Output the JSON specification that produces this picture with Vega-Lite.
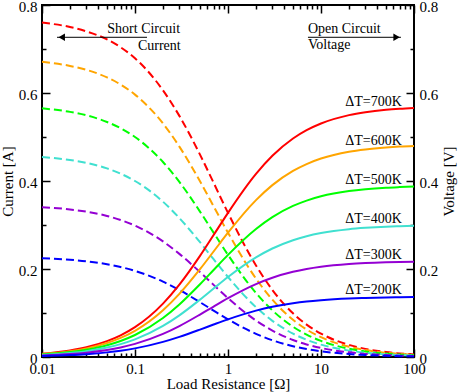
{
  "$schema": "https://vega.github.io/schema/vega-lite/v6.json",
  "autosize": "none",
  "width": 372,
  "height": 352,
  "padding": {"left": 42, "top": 5, "right": 44, "bottom": 35},
  "background": "white",
  "config": {
    "font": "Liberation Serif",
    "view": {"stroke": "black", "strokeWidth": 2},
    "axis": {
      "labelFont": "Liberation Serif", "titleFont": "Liberation Serif",
      "labelFontSize": 15, "titleFontSize": 15, "titleFontWeight": "normal",
      "labelColor": "black", "titleColor": "black", "tickColor": "black",
      "tickWidth": 1.5, "grid": false, "domain": false,
      "labelFlush": false, "labelOverlap": false
    },
    "text": {"font": "Liberation Serif", "fontSize": 14, "color": "black"}
  },
  "datasets": {
    "curves": [
      {"R":0.01,"dT":"700","I":0.760,"V":0.0076},{"R":0.02,"dT":"700","I":0.750,"V":0.0150},{"R":0.03,"dT":"700","I":0.740,"V":0.0222},{"R":0.05,"dT":"700","I":0.722,"V":0.0361},{"R":0.07,"dT":"700","I":0.704,"V":0.0493},{"R":0.1,"dT":"700","I":0.679,"V":0.0679},{"R":0.2,"dT":"700","I":0.606,"V":0.1213},{"R":0.3,"dT":"700","I":0.548,"V":0.1644},{"R":0.5,"dT":"700","I":0.460,"V":0.2298},{"R":0.7,"dT":"700","I":0.396,"V":0.2771},{"R":1,"dT":"700","I":0.3276,"V":0.3276},{"R":2,"dT":"700","I":0.208,"V":0.4161},{"R":3,"dT":"700","I":0.1524,"V":0.4572},{"R":5,"dT":"700","I":0.0993,"V":0.4965},{"R":7,"dT":"700","I":0.0736,"V":0.5155},{"R":10,"dT":"700","I":0.0531,"V":0.5307},{"R":20,"dT":"700","I":0.0275,"V":0.5497},{"R":30,"dT":"700","I":0.0185,"V":0.5563},{"R":50,"dT":"700","I":0.0112,"V":0.5617},{"R":70,"dT":"700","I":0.0081,"V":0.5640},{"R":100,"dT":"700","I":0.0057,"V":0.5658},
      {"R":0.01,"dT":"600","I":0.6708,"V":0.0067},{"R":0.02,"dT":"600","I":0.6616,"V":0.0132},{"R":0.03,"dT":"600","I":0.6527,"V":0.0196},{"R":0.05,"dT":"600","I":0.6355,"V":0.0318},{"R":0.07,"dT":"600","I":0.6192,"V":0.0434},{"R":0.1,"dT":"600","I":0.5963,"V":0.0596},{"R":0.2,"dT":"600","I":0.5308,"V":0.1062},{"R":0.3,"dT":"600","I":0.4782,"V":0.1435},{"R":0.5,"dT":"600","I":0.3992,"V":0.1996},{"R":0.7,"dT":"600","I":0.3426,"V":0.2398},{"R":1,"dT":"600","I":0.2825,"V":0.2825},{"R":2,"dT":"600","I":0.1782,"V":0.3565},{"R":3,"dT":"600","I":0.1302,"V":0.3906},{"R":5,"dT":"600","I":0.0846,"V":0.4229},{"R":7,"dT":"600","I":0.0626,"V":0.4385},{"R":10,"dT":"600","I":0.0451,"V":0.4510},{"R":20,"dT":"600","I":0.0233,"V":0.4665},{"R":30,"dT":"600","I":0.0157,"V":0.4718},{"R":50,"dT":"600","I":0.0095,"V":0.4762},{"R":70,"dT":"600","I":0.0068,"V":0.4782},{"R":100,"dT":"600","I":0.0048,"V":0.4796},
      {"R":0.01,"dT":"500","I":0.5652,"V":0.0057},{"R":0.02,"dT":"500","I":0.5571,"V":0.0111},{"R":0.03,"dT":"500","I":0.5493,"V":0.0165},{"R":0.05,"dT":"500","I":0.5342,"V":0.0267},{"R":0.07,"dT":"500","I":0.5200,"V":0.0364},{"R":0.1,"dT":"500","I":0.5000,"V":0.0500},{"R":0.2,"dT":"500","I":0.4432,"V":0.0886},{"R":0.3,"dT":"500","I":0.3980,"V":0.1194},{"R":0.5,"dT":"500","I":0.3305,"V":0.1653},{"R":0.7,"dT":"500","I":0.2826,"V":0.1978},{"R":1,"dT":"500","I":0.2321,"V":0.2321},{"R":2,"dT":"500","I":0.1455,"V":0.2910},{"R":3,"dT":"500","I":0.1060,"V":0.3179},{"R":5,"dT":"500","I":0.0687,"V":0.3433},{"R":7,"dT":"500","I":0.0508,"V":0.3555},{"R":10,"dT":"500","I":0.0365,"V":0.3652},{"R":20,"dT":"500","I":0.0189,"V":0.3772},{"R":30,"dT":"500","I":0.0127,"V":0.3814},{"R":50,"dT":"500","I":0.0077,"V":0.3848},{"R":70,"dT":"500","I":0.0055,"V":0.3862},{"R":100,"dT":"500","I":0.0039,"V":0.3874},
      {"R":0.01,"dT":"400","I":0.4545,"V":0.0045},{"R":0.02,"dT":"400","I":0.4478,"V":0.0090},{"R":0.03,"dT":"400","I":0.4412,"V":0.0132},{"R":0.05,"dT":"400","I":0.4286,"V":0.0214},{"R":0.07,"dT":"400","I":0.4167,"V":0.0292},{"R":0.1,"dT":"400","I":0.4000,"V":0.0400},{"R":0.2,"dT":"400","I":0.3529,"V":0.0706},{"R":0.3,"dT":"400","I":0.3158,"V":0.0947},{"R":0.5,"dT":"400","I":0.2609,"V":0.1304},{"R":0.7,"dT":"400","I":0.2222,"V":0.1556},{"R":1,"dT":"400","I":0.1818,"V":0.1818},{"R":2,"dT":"400","I":0.1132,"V":0.2264},{"R":3,"dT":"400","I":0.0822,"V":0.2466},{"R":5,"dT":"400","I":0.0531,"V":0.2655},{"R":7,"dT":"400","I":0.0392,"V":0.2745},{"R":10,"dT":"400","I":0.0282,"V":0.2817},{"R":20,"dT":"400","I":0.0145,"V":0.2906},{"R":30,"dT":"400","I":0.0098,"V":0.2936},{"R":50,"dT":"400","I":0.0059,"V":0.2962},{"R":70,"dT":"400","I":0.0043,"V":0.2972},{"R":100,"dT":"400","I":0.0030,"V":0.2981},
      {"R":0.01,"dT":"300","I":0.3406,"V":0.0034},{"R":0.02,"dT":"300","I":0.3354,"V":0.0067},{"R":0.03,"dT":"300","I":0.3303,"V":0.0099},{"R":0.05,"dT":"300","I":0.3206,"V":0.0160},{"R":0.07,"dT":"300","I":0.3114,"V":0.0218},{"R":0.1,"dT":"300","I":0.2986,"V":0.0299},{"R":0.2,"dT":"300","I":0.2627,"V":0.0525},{"R":0.3,"dT":"300","I":0.2344,"V":0.0703},{"R":0.5,"dT":"300","I":0.1929,"V":0.0965},{"R":0.7,"dT":"300","I":0.1639,"V":0.1147},{"R":1,"dT":"300","I":0.1337,"V":0.1337},{"R":2,"dT":"300","I":0.0829,"V":0.1658},{"R":3,"dT":"300","I":0.0601,"V":0.1802},{"R":5,"dT":"300","I":0.0387,"V":0.1936},{"R":7,"dT":"300","I":0.0286,"V":0.2000},{"R":10,"dT":"300","I":0.0205,"V":0.2051},{"R":20,"dT":"300","I":0.0106,"V":0.2113},{"R":30,"dT":"300","I":0.0071,"V":0.2135},{"R":50,"dT":"300","I":0.0043,"V":0.2153},{"R":70,"dT":"300","I":0.0031,"V":0.2161},{"R":100,"dT":"300","I":0.0022,"V":0.2166},
      {"R":0.01,"dT":"200","I":0.2246,"V":0.0022},{"R":0.02,"dT":"200","I":0.2210,"V":0.0044},{"R":0.03,"dT":"200","I":0.2175,"V":0.0065},{"R":0.05,"dT":"200","I":0.2108,"V":0.0105},{"R":0.07,"dT":"200","I":0.2045,"V":0.0143},{"R":0.1,"dT":"200","I":0.1957,"V":0.0196},{"R":0.2,"dT":"200","I":0.1713,"V":0.0343},{"R":0.3,"dT":"200","I":0.1522,"V":0.0457},{"R":0.5,"dT":"200","I":0.1245,"V":0.0623},{"R":0.7,"dT":"200","I":0.1054,"V":0.0738},{"R":1,"dT":"200","I":0.0856,"V":0.0856},{"R":2,"dT":"200","I":0.0527,"V":0.1054},{"R":3,"dT":"200","I":0.0381,"V":0.1142},{"R":5,"dT":"200","I":0.0245,"V":0.1223},{"R":7,"dT":"200","I":0.0180,"V":0.1262},{"R":10,"dT":"200","I":0.0129,"V":0.1292},{"R":20,"dT":"200","I":0.0067,"V":0.1330},{"R":30,"dT":"200","I":0.0045,"V":0.1343},{"R":50,"dT":"200","I":0.0027,"V":0.1354},{"R":70,"dT":"200","I":0.0019,"V":0.1358},{"R":100,"dT":"200","I":0.0014,"V":0.1362}
    ],
    "labels": [
      {"dT":"700","R":74,"y":0.571,"label":"ΔT=700K"},
      {"dT":"600","R":74,"y":0.482,"label":"ΔT=600K"},
      {"dT":"500","R":74,"y":0.3925,"label":"ΔT=500K"},
      {"dT":"400","R":74,"y":0.305,"label":"ΔT=400K"},
      {"dT":"300","R":74,"y":0.222,"label":"ΔT=300K"},
      {"dT":"200","R":74,"y":0.143,"label":"ΔT=200K"}
    ],
    "notesRight": [
      {"R":0.305,"y":0.7364,"text":"Short Circuit"},
      {"R":0.31,"y":0.6977,"text":"Current"}
    ],
    "notesLeft": [
      {"R":7.24,"y":0.7364,"text":"Open Circuit"},
      {"R":7.24,"y":0.699,"text":"Voltage"}
    ],
    "arrows": [
      {"R":0.0145,"R2":0.1346,"y":0.7266},
      {"R":7.24,"R2":72.4,"y":0.7266}
    ],
    "headsLeft": [{"R":0.0163,"y":0.7266}],
    "headsRight": [{"R":65.0,"y":0.7266}]
  },
  "layer": [
    {
      "data": {"name": "curves"},
      "mark": {"type": "line", "strokeDash": [8, 4], "strokeWidth": 2, "interpolate": "monotone"},
      "encoding": {
        "x": {"field": "R", "type": "quantitative",
              "scale": {"type": "log", "domain": [0.01, 100], "nice": false},
              "axis": {"orient": "bottom", "values": [0.01, 0.1, 1, 10, 100], "format": "~g", "ticks": false, "labelPadding": 4, "title": "Load Resistance [Ω]", "titleBaseline": "alphabetic", "titleY": 31.5}},
        "y": {"field": "I", "type": "quantitative",
              "scale": {"domain": [0, 0.8], "nice": false, "zero": false},
              "axis": {"orient": "left", "values": [0, 0.2, 0.4, 0.6, 0.8], "format": "~g", "ticks": false, "labelPadding": 5, "labelOffset": 1.5, "title": "Current [A]", "titlePadding": 3}},
        "color": {"field": "dT", "type": "nominal",
                  "scale": {"domain": ["700", "600", "500", "400", "300", "200"], "range": ["#ff0000", "#ffa500", "#00ff00", "#40e0d0", "#9400d3", "#0000ff"]},
                  "legend": null},
        "detail": {"field": "dT"}
      }
    },
    {
      "data": {"name": "curves"},
      "mark": {"type": "line", "strokeWidth": 2, "interpolate": "monotone"},
      "encoding": {
        "x": {"field": "R", "type": "quantitative",
              "axis": {"orient": "top", "values": [0.01, 0.1, 1, 10, 100], "labels": false, "tickSize": -8, "title": null}},
        "y": {"field": "V", "type": "quantitative",
              "axis": {"orient": "right", "values": [0, 0.2, 0.4, 0.6, 0.8], "format": "~g", "ticks": false, "labelPadding": 5, "labelOffset": 1.5, "title": "Voltage [V]", "titleAngle": -90, "titleBaseline": "top", "titleX": 27, "titleY": 176}},
        "color": {"field": "dT", "type": "nominal", "legend": null}
      }
    },
    {
      "data": {"name": "labels"},
      "mark": {"type": "text", "align": "right", "baseline": "alphabetic"},
      "encoding": {
        "x": {"field": "R", "type": "quantitative",
              "axis": {"orient": "bottom", "values": [0.01, 0.1, 1, 10, 100], "labels": false, "tickSize": -8, "title": null}},
        "y": {"field": "y", "type": "quantitative",
              "axis": {"orient": "left", "values": [0, 0.2, 0.4, 0.6, 0.8], "labels": false, "tickSize": -8, "title": null}},
        "text": {"field": "label"}
      }
    },
    {
      "data": {"name": "notesRight"},
      "mark": {"type": "text", "align": "right", "baseline": "alphabetic"},
      "encoding": {
        "x": {"field": "R", "type": "quantitative",
              "axis": {"orient": "bottom", "values": [0.02,0.03,0.04,0.05,0.06,0.07,0.08,0.09,0.2,0.3,0.4,0.5,0.6,0.7,0.8,0.9,2,3,4,5,6,7,8,9,20,30,40,50,60,70,80,90], "labels": false, "tickSize": -4, "title": null}},
        "y": {"field": "y", "type": "quantitative",
              "axis": {"orient": "right", "values": [0, 0.2, 0.4, 0.6, 0.8], "labels": false, "tickSize": -8, "title": null}},
        "text": {"field": "text"}
      }
    },
    {
      "data": {"name": "notesLeft"},
      "mark": {"type": "text", "align": "left", "baseline": "alphabetic"},
      "encoding": {
        "x": {"field": "R", "type": "quantitative",
              "axis": {"orient": "top", "values": [0.02,0.03,0.04,0.05,0.06,0.07,0.08,0.09,0.2,0.3,0.4,0.5,0.6,0.7,0.8,0.9,2,3,4,5,6,7,8,9,20,30,40,50,60,70,80,90], "labels": false, "tickSize": -4, "title": null}},
        "y": {"field": "y", "type": "quantitative",
              "axis": {"orient": "left", "values": [0.1, 0.3, 0.5, 0.7], "labels": false, "tickSize": -4, "title": null}},
        "text": {"field": "text"}
      }
    },
    {
      "data": {"name": "arrows"},
      "mark": {"type": "rule", "color": "black", "strokeWidth": 1},
      "encoding": {
        "x": {"field": "R", "type": "quantitative", "axis": null},
        "x2": {"field": "R2"},
        "y": {"field": "y", "type": "quantitative",
              "axis": {"orient": "right", "values": [0.1, 0.3, 0.5, 0.7], "labels": false, "tickSize": -4, "title": null}}
      }
    },
    {
      "data": {"name": "headsLeft"},
      "mark": {"type": "point", "shape": "triangle-left", "filled": true, "color": "black", "size": 55, "opacity": 1},
      "encoding": {
        "x": {"field": "R", "type": "quantitative", "axis": null},
        "y": {"field": "y", "type": "quantitative", "axis": null}
      }
    },
    {
      "data": {"name": "headsRight"},
      "mark": {"type": "point", "shape": "triangle-right", "filled": true, "color": "black", "size": 55, "opacity": 1},
      "encoding": {
        "x": {"field": "R", "type": "quantitative", "axis": null},
        "y": {"field": "y", "type": "quantitative", "axis": null}
      }
    }
  ],
  "resolve": {"axis": {"x": "independent", "y": "independent"}}
}
